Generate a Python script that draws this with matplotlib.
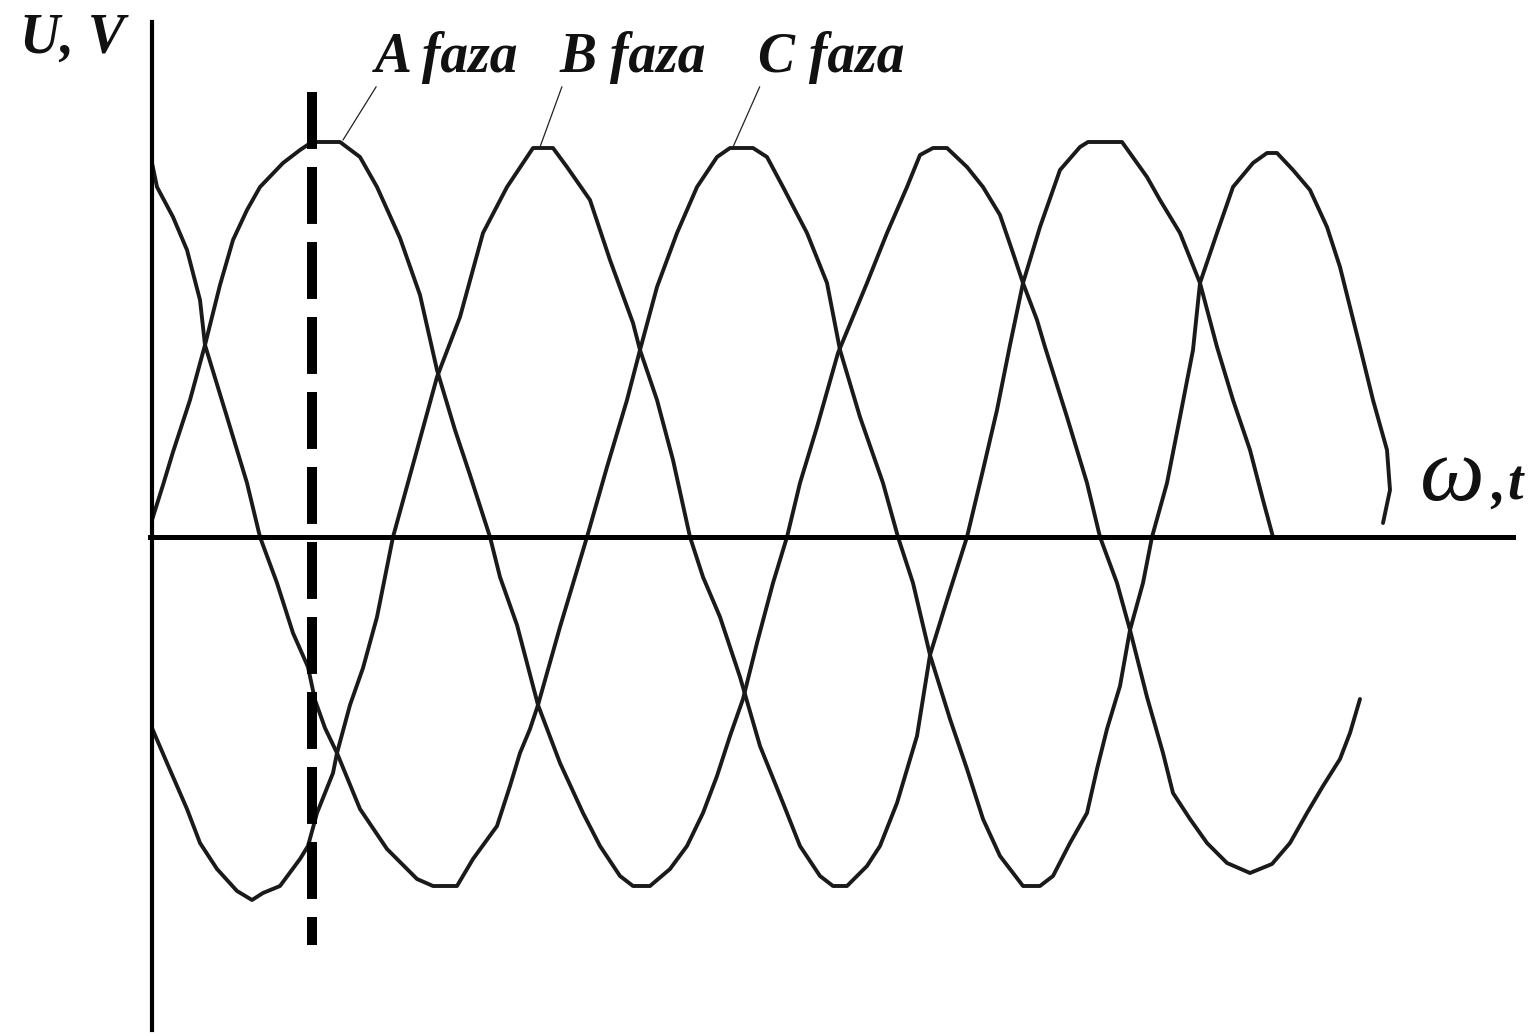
import matplotlib
matplotlib.use("Agg")
import matplotlib.pyplot as plt

plt.rcParams['lines.scale_dashes'] = False

# phase voltages traced along the time axis (t = omega*t, u = voltage)
a_t = [0, 11, 21, 38, 53, 68, 81, 95, 108, 131, 148, 160, 188, 208, 225, 248, 268, 285, 303, 318,
       338, 348, 365, 386, 408, 431, 448, 468, 481, 498, 518, 535, 551, 565, 578, 591, 605, 621,
       635, 648, 665, 686, 715, 735, 755, 768, 781, 795, 815, 831, 848, 861, 871, 885, 893, 915,
       935, 948, 965, 978, 995, 1011, 1021, 1038, 1055, 1075, 1098, 1120, 1138, 1155, 1171, 1188,
       1198, 1208]
a_u = [17, 52, 85, 137, 192, 252, 297, 327, 350, 374, 387, 395, 395, 380, 350, 299, 242, 167, 107, 62,
       0, -40, -88, -168, -226, -276, -309, -339, -349, -349, -332, -309, -276, -239, -199, -162, -106, -46,
       0, 54, 110, 184, 254, 304, 350, 382, 389, 389, 370, 350, 322, 284, 254, 217, 190, 120,
       54, 0, -46, -93, -160, -216, -256, -282, -306, -326, -336, -327, -306, -276, -249, -222,
       -196, -162]

b_t = [0, 15, 35, 48, 65, 85, 100, 111, 128, 148, 156, 165, 181, 185, 198, 211, 225, 241, 265, 285,
       308, 331, 355, 381, 401, 415, 438, 458, 481, 488, 505, 521, 538, 551, 568, 588, 608, 631,
       648, 668, 681, 695, 715, 728, 745, 765, 778, 795, 815, 831, 845, 858, 871, 888, 908, 928,
       936, 970, 995, 1008, 1028, 1048, 1065, 1081, 1098, 1111, 1121]
b_u = [-191, -226, -272, -306, -332, -354, -363, -356, -349, -322, -309, -276, -236, -216, -168, -131, -80, 0, 87, 160,
       220, 304, 350, 389, 389, 370, 337, 277, 214, 187, 137, 77, 0, -40, -80, -140, -209, -266,
       -309, -339, -349, -349, -329, -309, -266, -199, -118, -63, 0, 67, 127, 192, 254, 310, 367, 390,
       395, 395, 360, 337, 304, 254, 190, 137, 87, 37, 0]

c_t = [0, 5, 21, 35, 48, 53, 75, 95, 108, 125, 141, 156, 163, 173, 185, 208, 235, 265, 281, 305,
       321, 345, 358, 368, 378, 386, 408, 435, 455, 475, 488, 505, 525, 545, 565, 578, 601, 615,
       631, 655, 675, 688, 708, 731, 746, 761, 778, 798, 815, 831, 848, 871, 888, 901, 918, 935,
       945, 955, 968, 978, 991, 1000, 1015, 1028, 1041, 1048, 1065, 1081, 1101, 1115, 1125, 1141,
       1158, 1175, 1188, 1198, 1208, 1221, 1235, 1238, 1231]
c_u = [374, 350, 320, 287, 237, 192, 120, 54, 0, -46, -96, -130, -163, -191, -216, -272, -312, -342, -349, -349,
       -322, -289, -249, -216, -192, -168, -90, 0, 70, 137, 187, 250, 304, 350, 380, 389, 389, 380,
       350, 304, 254, 187, 120, 54, 0, -46, -118, -182, -232, -282, -319, -349, -349, -339, -306, -276,
       -232, -192, -149, -93, -46, 0, 54, 120, 187, 254, 304, 350, 374, 384, 384, 367,
       347, 310, 270, 230, 190, 137, 87, 47, 14]

# moment marked with the dashed cursor
cursor_t = 160
cursor_u = [445, -408]

labels = ["A faza", "B faza", "C faza"]
label_peaks = [(191, 397), (388, 390), (581, 390)]
label_pos = [(223, 465), (408, 465), (606, 465)]

fig = plt.figure(figsize=(15.34, 10.36), dpi=100)
ax = fig.add_axes([0, 0, 1, 1])
ax.set_xlim(-152, 1382)
ax.set_ylim(-499, 537)

line_kw = dict(color='#1a1a1a', lw=2.8, solid_joinstyle='round', solid_capstyle='round')
ax.plot(a_t, a_u, **line_kw)
ax.plot(b_t, b_u, **line_kw)
ax.plot(c_t, c_u, **line_kw)

ax.plot([cursor_t, cursor_t], cursor_u, color='black', lw=7.2,
        dashes=(41, 13), dash_capstyle='butt')

# axes drawn through the origin
for side in ['top', 'right']:
    ax.spines[side].set_visible(False)
ax.spines['left'].set_position(('data', 0))
ax.spines['bottom'].set_position(('data', 0))
ax.spines['left'].set_bounds(-493, 515)
ax.spines['bottom'].set_bounds(-2, 1361)
ax.spines['left'].set_linewidth(3.0)
ax.spines['bottom'].set_linewidth(3.6)
ax.set_xticks([])
ax.set_yticks([])

font = dict(family='Liberation Serif', style='italic', weight='bold', color='#111111')

for lab, peak, pos in zip(labels, label_peaks, label_pos):
    ax.annotate(lab, xy=peak, xytext=pos, fontsize=40, ha='left', va='baseline',
                arrowprops=dict(arrowstyle='-', lw=0.9, color='#222222',
                                shrinkA=0, shrinkB=0, relpos=(0.02, 0.0)),
                **font)

ax.text(-132, 484, "U, V", fontsize=40, ha='left', va='baseline', **font)
ax.text(1268, 37, "\u03c9", fontsize=66, family='Liberation Serif', style='italic',
        color='#111111', ha='left', va='baseline')
ax.text(1339, 37, ",", fontsize=40, ha='left', va='baseline', **font)
ax.text(1355, 37, "t", fontsize=40, ha='left', va='baseline', **font)

plt.savefig("out.png", dpi=100)
